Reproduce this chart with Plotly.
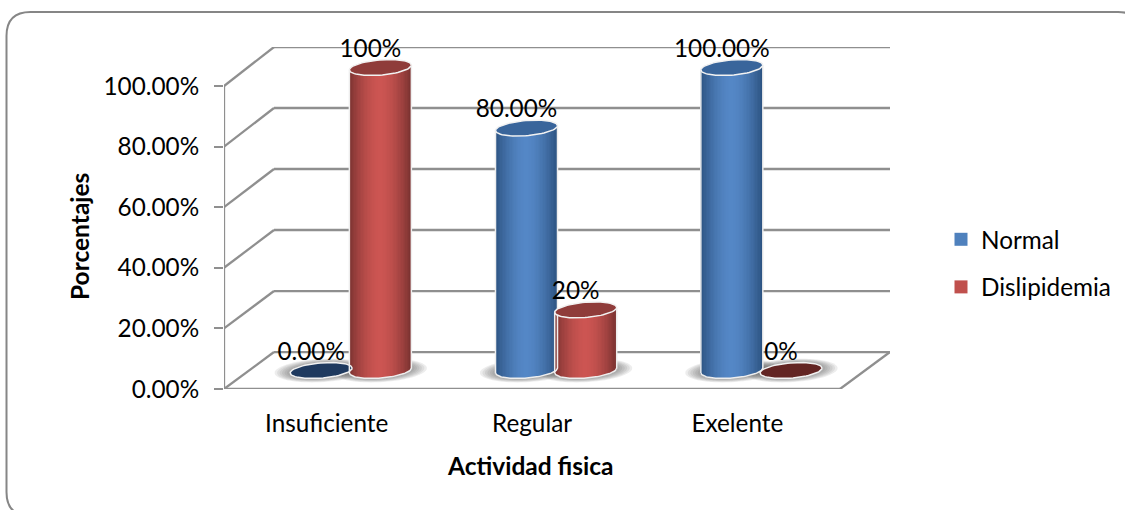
import numpy as np
import plotly.graph_objects as go

# Chart data
categories = ["Insuficiente", "Regular", "Exelente"]
normal_values = [0, 80, 100]
dislipidemia_values = [100, 20, 0]
normal_labels = ["0.00%", "80.00%", "100.00%"]
dislipidemia_labels = ["100%", "20%", "0%"]
y_ticks = [0, 20, 40, 60, 80, 100]
y_tick_labels = ["0.00%", "20.00%", "40.00%", "60.00%", "80.00%", "100.00%"]

# Pixel geometry of the figure
W, H = 1125, 510
L, R, T, B = 224, 890, 47, 389
PX_X = 616 / 3          # pixels per category
PX_Y = 3.03             # pixels per percentage point
FONT = "Lato"
TEXT_SIZE = 24.3
TITLE_SIZE = 24.5

# Oblique projection of the floor and back wall, in axis units
DEPTH_X = 50 / PX_X
FLOOR_MID = 18.5 / PX_Y
X_MIN = -0.5
X_MAX = X_MIN + (R - L) / PX_X
Y_MAX = (B - T) / PX_Y


def back_y(v):
    return 12.2 + v * 1.0067


# Cylinder shape, in axis units
RX = 31 / PX_X
RY = 7.6 / PX_Y
TILT = 2.4 / PX_Y
OFFSETS = {"normal": -5.5 / PX_X, "dislipidemia": 53.7 / PX_X}
N_SLICES = 45

STYLE = {
    "normal": dict(center=(84, 135, 198), edge=(44, 82, 128),
                   cap="#39659b", cap_zero="#1f3a5f", legend="#4f81bd"),
    "dislipidemia": dict(center=(204, 85, 82), edge=(122, 50, 48),
                         cap="#8f3c3a", cap_zero="#632523", legend="#c0504d"),
}
LINE = "#8f8f8f"


def ellipse(cx, cy, rx=RX, ry=RY, tilt=TILT, n=72):
    t = np.linspace(0, 2 * np.pi, n)
    return cx + rx * np.cos(t), cy + ry * np.sin(t) + tilt * np.cos(t)


def front_arc(u):
    # Lower edge of the tilted ellipse at normalised position u in [-1, 1]
    return -RY * np.sqrt(np.clip(1 - u ** 2, 0, 1)) + TILT * u


def shade(style, u):
    k = abs(u) ** 1.7
    c = [round(a + (b - a) * k) for a, b in zip(style["center"], style["edge"])]
    return "rgb(%d,%d,%d)" % tuple(c)


def poly_path(xs, ys):
    return "M " + " L ".join(f"{x:.4f},{y:.4f}" for x, y in zip(xs, ys)) + " Z"


fig = go.Figure()
shapes = []


def wall_line(x0, y0, x1, y1):
    shapes.append(dict(type="line", xref="x", yref="y", layer="below",
                       x0=x0, y0=y0, x1=x1, y1=y1,
                       line=dict(color=LINE, width=2.3)))


# Back wall gridlines with their oblique returns to the value axis
for v in y_ticks:
    wall_line(X_MIN, v, X_MIN + DEPTH_X, back_y(v))
    wall_line(X_MIN + DEPTH_X, back_y(v), X_MAX, back_y(v))

# Value axis and the front and right edges of the floor
floor_right = X_MIN + 3
wall_line(X_MIN, 0, X_MIN, 100)
wall_line(X_MIN, 0, floor_right, 0)
wall_line(floor_right, 0, X_MAX, back_y(0))

series = [
    ("normal", "Normal", normal_values, normal_labels),
    ("dislipidemia", "Dislipidemia", dislipidemia_values, dislipidemia_labels),
]

# Soft floor shadows below every cylinder
for key, _, values, _ in series:
    for i, _v in enumerate(values):
        cx = i + OFFSETS[key]
        for grow in np.linspace(1.5, 1.02, 7):
            xs, ys = ellipse(cx, FLOOR_MID, RX * grow, RY * (grow ** 1.05), TILT)
            shapes.append(dict(type="path", xref="x", yref="y", layer="below",
                               path=poly_path(xs, ys),
                               fillcolor="rgba(90,90,90,0.11)",
                               line=dict(width=0)))

# Cylinder bodies: thin bars shaded from the edges to the centre
us = (np.arange(N_SLICES) + 0.5) / N_SLICES * 2 - 1
for key, _, values, _ in series:
    style = STYLE[key]
    for i, v in enumerate(values):
        if v <= 0:
            continue
        cx = i + OFFSETS[key]
        fig.add_trace(go.Bar(
            x=cx + us * RX,
            y=[v] * N_SLICES,
            base=FLOOR_MID + front_arc(us),
            width=2 * RX / N_SLICES * 1.05,
            marker=dict(color=[shade(style, u) for u in us], line=dict(width=0)),
            showlegend=False, hoverinfo="skip",
        ))

# Pale outlines and top faces of the cylinders
for key, _, values, _ in series:
    style = STYLE[key]
    for i, v in enumerate(values):
        cx = i + OFFSETS[key]
        if v > 0:
            arc_u = np.linspace(-1, 1, 60)
            ox = np.concatenate([[cx - RX], cx + arc_u * RX, [cx + RX]])
            oy = np.concatenate([[FLOOR_MID + v - TILT],
                                 FLOOR_MID + front_arc(arc_u),
                                 [FLOOR_MID + v + TILT]])
            fig.add_trace(go.Scatter(x=ox, y=oy, mode="lines",
                                     line=dict(color="#eeeeee", width=1.5),
                                     showlegend=False, hoverinfo="skip"))
        xs, ys = ellipse(cx, FLOOR_MID + v)
        fig.add_trace(go.Scatter(
            x=xs, y=ys, mode="lines", fill="toself",
            fillcolor=style["cap"] if v > 0 else style["cap_zero"],
            line=dict(color="#f2f2f2", width=1.5),
            showlegend=False, hoverinfo="skip",
        ))

# Value labels above each cylinder
for key, _, values, labels in series:
    fig.add_trace(go.Scatter(
        x=[i + OFFSETS[key] - 10 / PX_X for i in range(len(values))],
        y=[FLOOR_MID + v + 5.6 for v in values],
        text=labels, mode="text", textposition="middle center",
        textfont=dict(family=FONT, size=TEXT_SIZE, color="#000000"),
        showlegend=False, hoverinfo="skip", cliponaxis=False,
    ))

# Legend entries
for key, name, _, _ in series:
    fig.add_trace(go.Scatter(
        x=[None], y=[None], mode="markers", name=name, legendgroup=key,
        marker=dict(symbol="square", size=13, color=STYLE[key]["legend"]),
    ))


def px(x):
    return (x - L) / (R - L)


def py(y):
    return (B - y) / (B - T)


# Rounded chart frame running past the right and bottom of the page
fl, ft, fr, fb, r = 6.5, 12, 1142, 516, 24
frame = (f"M {px(fl + r)},{py(ft)} L {px(fr - r)},{py(ft)} "
         f"Q {px(fr)},{py(ft)} {px(fr)},{py(ft + r)} "
         f"L {px(fr)},{py(fb - r)} Q {px(fr)},{py(fb)} {px(fr - r)},{py(fb)} "
         f"L {px(fl + r)},{py(fb)} Q {px(fl)},{py(fb)} {px(fl)},{py(fb - r)} "
         f"L {px(fl)},{py(ft + r)} Q {px(fl)},{py(ft)} {px(fl + r)},{py(ft)} Z")
shapes.append(dict(type="path", xref="paper", yref="paper", layer="below",
                   path=frame, line=dict(color="#868686", width=2)))

fig.update_layout(
    width=W, height=H,
    margin=dict(l=L, r=W - R, t=T, b=H - B, autoexpand=False),
    paper_bgcolor="white", plot_bgcolor="rgba(0,0,0,0)",
    barmode="overlay", hovermode=False, bargap=0,
    font=dict(family=FONT, size=TEXT_SIZE, color="#000000"),
    shapes=shapes,
    legend=dict(x=px(941), y=py(217), xanchor="left", yanchor="top",
                bgcolor="rgba(0,0,0,0)", tracegroupgap=13,
                itemclick=False, itemdoubleclick=False,
                font=dict(family=FONT, size=TEXT_SIZE)),
    annotations=[
        dict(text="<b>Actividad fisica</b>", xref="paper", yref="paper",
             x=px(530), y=py(465), xanchor="center", yanchor="middle",
             showarrow=False, font=dict(family=FONT, size=TITLE_SIZE)),
        dict(text="<b>Porcentajes</b>", xref="paper", yref="paper",
             x=px(79), y=py(237), xanchor="center", yanchor="middle",
             textangle=-90, showarrow=False,
             font=dict(family=FONT, size=TITLE_SIZE)),
    ],
    xaxis=dict(range=[X_MIN, X_MAX], tickmode="array",
               tickvals=list(range(len(categories))), ticktext=categories,
               showgrid=False, zeroline=False, showline=False, ticks="",
               ticklabelstandoff=18, tickfont=dict(family=FONT, size=TEXT_SIZE)),
    yaxis=dict(range=[0, Y_MAX], tickmode="array", tickvals=y_ticks,
               ticktext=y_tick_labels, showgrid=False, zeroline=False,
               showline=False, ticks="outside", ticklen=9, tickwidth=2,
               tickcolor=LINE, ticklabelstandoff=10,
               tickfont=dict(family=FONT, size=TEXT_SIZE)),
)

fig.write_html("out.html")
